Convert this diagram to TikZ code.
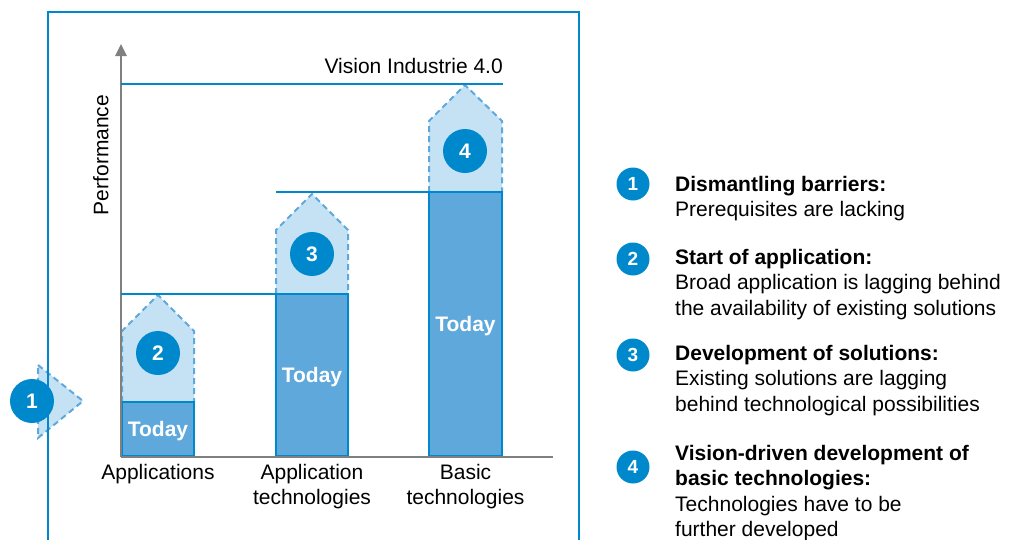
\documentclass[tikz,border=0pt]{standalone}
\usepackage{fontspec}
\setmainfont{Liberation Sans}
\usetikzlibrary{positioning,arrows.meta}
\definecolor{iaoblue}{RGB}{0,136,204}
\definecolor{barblue}{RGB}{94,168,220}
\definecolor{futureblue}{RGB}{197,226,244}
\definecolor{axisgray}{RGB}{128,128,128}
\tikzset{
  levelline/.style={iaoblue, line width=2pt},
  futurebox/.style={fill=futureblue, draw=barblue, line width=2pt, dash pattern=on 6pt off 4pt},
  todaybox/.style={fill=barblue, draw=iaoblue, line width=2pt, text=white, inner sep=0pt,
    outer sep=0pt, text depth=0pt, font=\fontsize{21}{21}\selectfont\bfseries},
  bignum/.style={circle, fill=iaoblue, text=white, minimum size=44pt, inner sep=0pt,
    font=\fontsize{21}{21}\selectfont\bfseries},
  smallnum/.style={circle, fill=iaoblue, text=white, minimum size=33pt, inner sep=0pt,
    font=\fontsize{19}{19}\selectfont\bfseries},
  txt/.style={inner sep=0pt, font=\fontsize{21}{25.5}\selectfont},
  legtxt/.style={txt, anchor=north west, align=left},
}
\begin{document}
\begin{tikzpicture}[x=1pt,y=-1pt]
    \useasboundingbox (0,0) rectangle (1010,539);
    % Stage 1: barrier arrow on the left
    \draw[futurebox] (38,365) -- (83,401) -- (38,438) -- cycle;
    % Frame
    \draw[iaoblue, line width=2.5pt] (48,560) -- (48,12) -- (579,12) -- (579,560);
    \node[bignum] (n1) at (32,401) {1};
    % Future parts (dashed pentagons)
    \draw[futurebox] (122,402) -- (122,331) -- (158,295) -- (194,331) -- (194,402) -- cycle;
    \draw[futurebox] (276,294) -- (276,230) -- (312,194) -- (348,230) -- (348,294) -- cycle;
    \draw[futurebox] (429,192) -- (429,121) -- (465,85) -- (502,121) -- (502,192) -- cycle;
    % Today bars
    \node[todaybox, minimum width=72pt, minimum height=54pt, anchor=south west] (bar1) at (122,456) {Today};
    \node[todaybox, minimum width=72pt, minimum height=162pt, anchor=south west] (bar2) at (276,456) {Today};
    \node[todaybox, minimum width=73pt, minimum height=264pt, anchor=south west] (bar3) at (429,456) {Today};
    % Axes
    \coordinate (origin) at (121,457);
    \draw[axisgray, line width=2.5pt, -{Triangle[width=11pt,length=12pt]}] (origin) -- (121,44);
    \draw[axisgray, line width=2.5pt] (origin) -- (553,457);
    \node[txt, rotate=90] (perf) at (101,155) {Performance};
    % Performance levels
    \draw[levelline] (origin |- bar2.north) -- (bar2.north east);
    \draw[levelline] (bar2.north west |- bar3.north) -- (bar3.north east);
    \coordinate (vision) at (503,84);
    \draw[levelline] (origin |- vision) -- (vision);
    \node[txt, anchor=base east] (visiontxt) at (503,73) {Vision Industrie 4.0};
    % Stage numbers
    \node[bignum] (n2) at (158,353) {2};
    \node[bignum] (n3) at (312,254) {3};
    \node[bignum] (n4) at (465,151) {4};
    % Categories
    \node[txt, below=8pt of bar1.south] (cat1) {Applications};
    \node[txt, align=center, below=8pt of bar2.south] (cat2) {Application\\technologies};
    \node[txt, align=center, below=8pt of bar3.south] (cat3) {Basic\\technologies};
    % Legend
    \node[smallnum] (l1) at (633,184) {1};
    \node[smallnum] (l2) at (633,259) {2};
    \node[smallnum] (l3) at (633,355) {3};
    \node[smallnum] (l4) at (633,467) {4};
    \node[legtxt] (t1) at (675,176) {\textbf{Dismantling barriers:}\\Prerequisites are lacking};
    \node[legtxt] (t2) at (675,249) {\textbf{Start of application:}\\Broad application is lagging behind\\the availability of existing solutions};
    \node[legtxt] (t3) at (675,345) {\textbf{Development of solutions:}\\Existing solutions are lagging\\behind technological possibilities};
    \node[legtxt] (t4) at (675,445) {\textbf{Vision-driven development of}\\\textbf{basic technologies:}\\Technologies have to be\\further developed};
\end{tikzpicture}
\end{document}
